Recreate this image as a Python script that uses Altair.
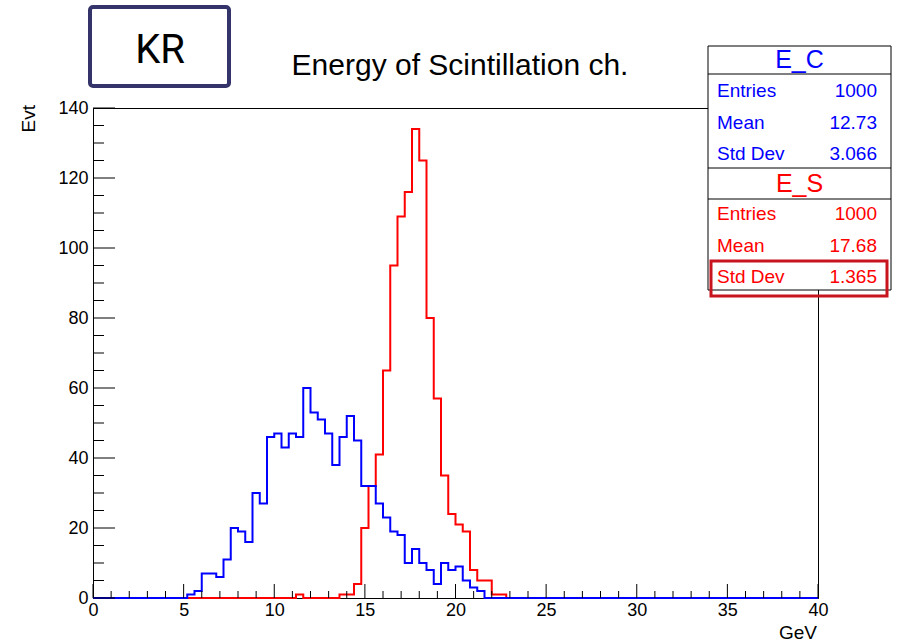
import altair as alt
import pandas as pd

# ---------------- data ----------------
BIN_WIDTH = 0.4
N_BINS = 100
X_MIN, X_MAX = 0, 40
Y_MAX = 140

# E_C (blue) histogram: first non-empty bin low edge + counts
ec_start = 5.2
ec_counts = [1, 2, 7, 7, 6, 11, 20, 19, 16, 30, 27, 46, 47, 43, 47, 46, 60, 53, 51, 47,
             38, 46, 52, 45, 32, 32, 27, 23, 19, 18, 10, 14, 10, 8, 4, 10, 8, 9, 5, 3, 2]
# E_S (red) histogram
es_start = 11.2
es_counts = [1, 0, 0, 0, 0, 0, 1, 1, 4, 20, 32, 41, 65, 95, 109, 116, 134, 125, 80, 57,
             35, 24, 21, 19, 8, 5, 5, 1, 1]

x_ticks_major = [0, 5, 10, 15, 20, 25, 30, 35, 40]
x_ticks_minor = [v for v in range(0, 41) if v % 5 != 0]
y_ticks_major = [0, 20, 40, 60, 80, 100, 120, 140]
y_ticks_minor = [v for v in range(0, 141, 5) if v % 20 != 0]

stat_labels = ["Entries", "Mean", "Std Dev"]
ec_stats = ["1000", "12.73", "3.066"]
es_stats = ["1000", "17.68", "1.365"]

title_text = "Energy of Scintillation ch."
x_title = "GeV"
y_title = "Evt"
badge_text = "KR"

BLUE = "#0000ff"
RED = "#ff0000"
FONT = "Liberation Sans"


def hist_frame(start, counts):
    full = [0] * N_BINS
    i0 = int(round(start / BIN_WIDTH))
    for k, c in enumerate(counts):
        full[i0 + k] = c
    edges = [round(i * BIN_WIDTH, 2) for i in range(N_BINS)] + [X_MAX]
    vals = full + [full[-1]]
    return pd.DataFrame({"x": edges, "n": vals})


W, H = 725, 490
xscale = alt.Scale(domain=[X_MIN, X_MAX], nice=False, zero=False)
yscale = alt.Scale(domain=[0, Y_MAX], nice=False)

one = pd.DataFrame({"a": [0]})

X_AXIS = alt.Axis(values=x_ticks_major, labelFontSize=18, labelFont=FONT,
                  labelColor="black", tickSize=0, labelPadding=3,
                  domainColor="black", domainWidth=1, grid=False, title=None,
                  labelFlush=False)
Y_AXIS = alt.Axis(values=y_ticks_major, labelFontSize=18, labelFont=FONT,
                  labelColor="black", tickSize=0, labelPadding=5,
                  domainColor="black", domainWidth=1, grid=False, title=None)

red_line = alt.Chart(hist_frame(es_start, es_counts)).mark_line(
    interpolate="step-after", color=RED, strokeWidth=2
).encode(
    x=alt.X("x:Q", scale=xscale, axis=X_AXIS),
    y=alt.Y("n:Q", scale=yscale, axis=Y_AXIS),
)

blue_line = alt.Chart(hist_frame(ec_start, ec_counts)).mark_line(
    interpolate="step-after", color=BLUE, strokeWidth=2
).encode(
    x=alt.X("x:Q", scale=xscale, axis=X_AXIS),
    y=alt.Y("n:Q", scale=yscale, axis=Y_AXIS),
)


def yticks(vals, length):
    return alt.Chart(pd.DataFrame({"n": vals})).mark_rule(color="black", strokeWidth=1).encode(
        y=alt.Y("n:Q", scale=yscale, axis=Y_AXIS), x=alt.value(0), x2=alt.value(length))


def xticks(vals, length):
    return alt.Chart(pd.DataFrame({"x": vals})).mark_rule(color="black", strokeWidth=1).encode(
        x=alt.X("x:Q", scale=xscale, axis=X_AXIS), y=alt.value(H), y2=alt.value(H - length))


def box(x1, x2, y1, y2, stroke="black", sw=1, fill="white", radius=0, fill_opacity=1):
    return alt.Chart(one).mark_rect(stroke=stroke, strokeWidth=sw, fill=fill,
                                    fillOpacity=fill_opacity, cornerRadius=radius).encode(
        x=alt.value(x1), x2=alt.value(x2), y=alt.value(y1), y2=alt.value(y2))


def hline(x1, x2, y):
    return alt.Chart(one).mark_rule(color="black", strokeWidth=1).encode(
        x=alt.value(x1), x2=alt.value(x2), y=alt.value(y))


def txt(s, x, y, size, color="black", align="left", font=FONT, angle=0, baseline="alphabetic"):
    return alt.Chart(one).mark_text(text=s, fontSize=size, color=color, align=align,
                                    font=font, angle=angle, baseline=baseline).encode(
        x=alt.value(x), y=alt.value(y))


OX, OY = 93, 108  # canvas offset of plot area

layers = [red_line, blue_line,
          yticks(y_ticks_major, 22), yticks(y_ticks_minor, 11),
          xticks(x_ticks_major, 14), xticks(x_ticks_minor, 7)]

# stats box
bx1, bx2 = 708 - OX, 891 - OX
layers.append(box(bx1, bx2, 46 - OY, 290 - OY))
for yy in [74, 168, 199]:
    layers.append(hline(bx1, bx2, yy - OY))
cx = (bx1 + bx2) / 2
layers.append(txt("E_C", cx, 68 - OY, 25, BLUE, "center"))
layers.append(txt("E_S", cx, 192 - OY, 25, RED, "center"))
for i, lab in enumerate(stat_labels):
    yb = [97, 129, 160][i] - OY
    layers.append(txt(lab, 717 - OX, yb, 19, BLUE, "left"))
    layers.append(txt(ec_stats[i], 877 - OX, yb, 19, BLUE, "right"))
    yr = [220, 252, 283][i] - OY
    layers.append(txt(lab, 717 - OX, yr, 19, RED, "left"))
    layers.append(txt(es_stats[i], 877 - OX, yr, 19, RED, "right"))
layers.append(box(711 - OX, 887 - OX, 261 - OY, 296 - OY, stroke="#c8141e", sw=3,
                  fill="white", fill_opacity=0))

# title, axis titles
layers.append(txt(title_text, 460 - OX, 75 - OY, 30, "black", "center"))
layers.append(txt(x_title, 817 - OX, 639 - OY, 19, "black", "right"))
layers.append(txt(y_title, 35 - OX, 105 - OY, 19, "black", "right", angle=270))

# KR badge
layers.append(box(90 - OX, 229 - OX, 7 - OY, 86 - OY, stroke="#34346a", sw=4, radius=3))
layers.append(txt(badge_text, 160 - OX, 63 - OY, 40, "black", "center", font="Roboto"))

chart = alt.layer(*layers).properties(
    width=W, height=H,
    autosize=alt.AutoSizeParams(type="none"),
    padding={"left": OX, "top": OY, "right": 897 - OX - W, "bottom": 643 - OY - H},
    background="white",
).configure_view(stroke="black", strokeWidth=1)

chart.save("out.html", embed_options={"renderer": "svg", "actions": False})
